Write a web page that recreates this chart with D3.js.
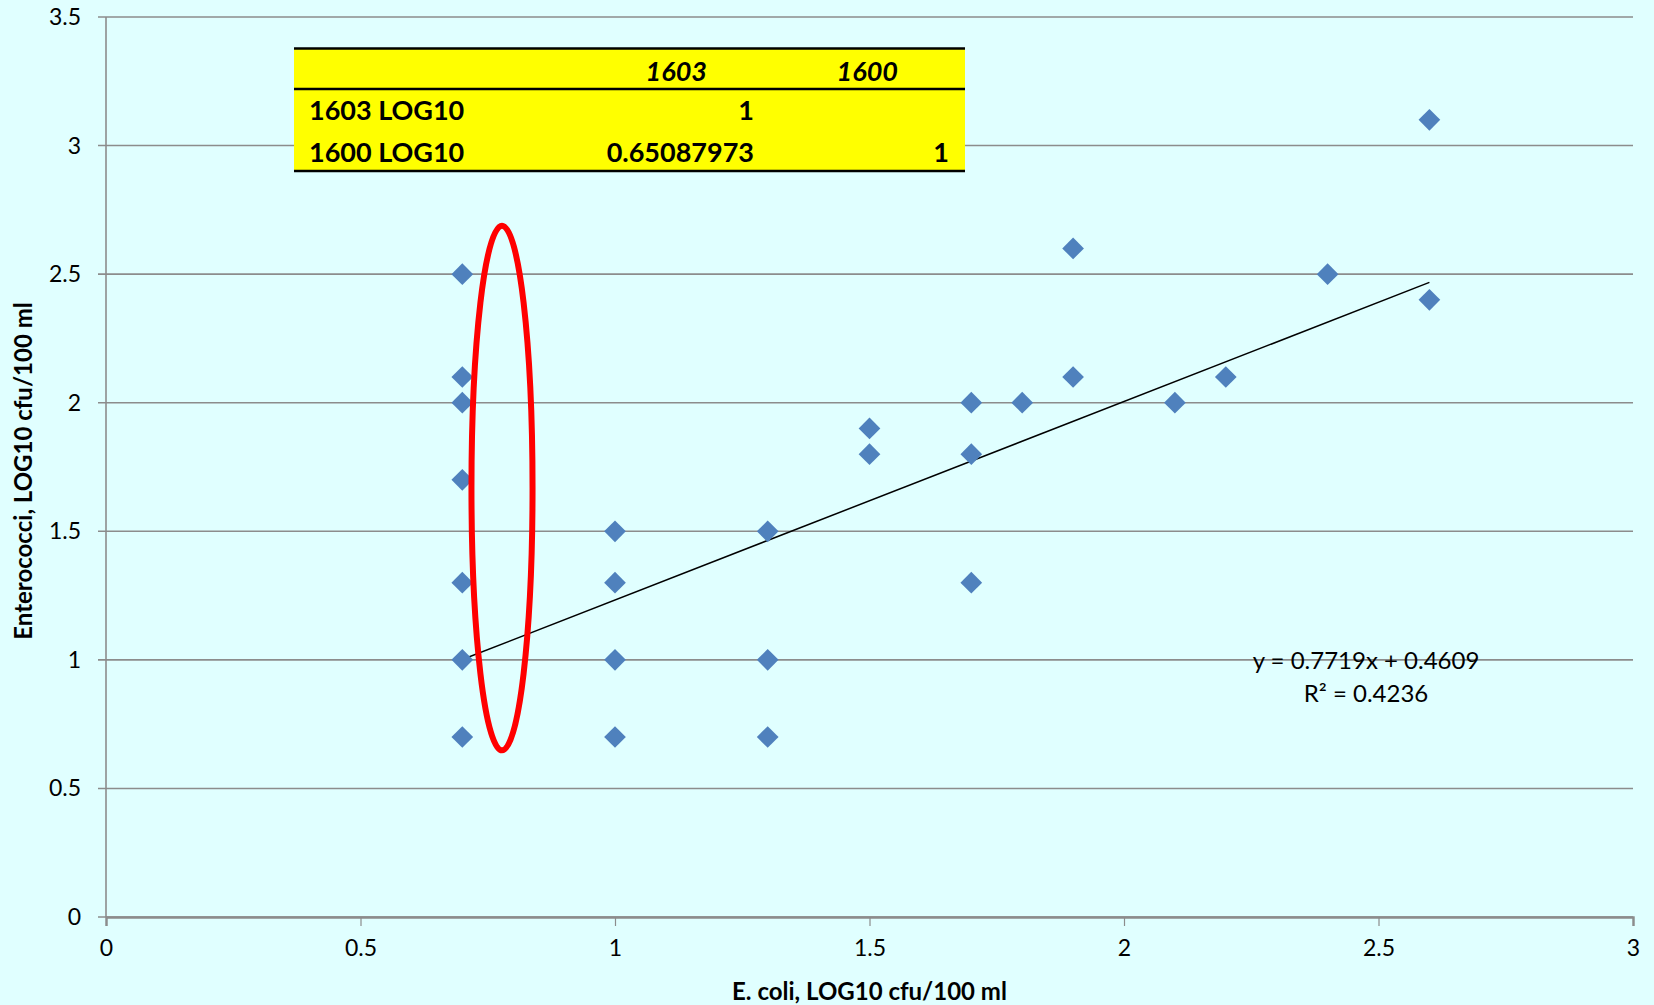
<!DOCTYPE html>
<html>
<head>
<meta charset="utf-8">
<script src="https://cdn.jsdelivr.net/npm/d3@7"></script>
<style>
  html, body { margin: 0; padding: 0; background: #e0ffff; }
  svg { display: block; font-family: Lato, "Noto Sans", sans-serif; }
</style>
</head>
<body>
<script>
// E. coli (x) vs Enterococci (y), LOG10 cfu/100 ml
const ecoli = [0.7, 0.7, 0.7, 0.7, 0.7, 0.7, 0.7,
               1.0, 1.0, 1.0, 1.0,
               1.3, 1.3, 1.3,
               1.5, 1.5,
               1.7, 1.7, 1.7,
               1.8,
               1.9, 1.9,
               2.1, 2.2, 2.4,
               2.6, 2.6];
const entero = [2.5, 2.1, 2.0, 1.7, 1.3, 1.0, 0.7,
                1.5, 1.3, 1.0, 0.7,
                1.5, 1.0, 0.7,
                1.9, 1.8,
                2.0, 1.8, 1.3,
                2.0,
                2.6, 2.1,
                2.0, 2.1, 2.5,
                3.1, 2.4];

const xTicks = [0, 0.5, 1, 1.5, 2, 2.5, 3];
const yTicks = [0, 0.5, 1, 1.5, 2, 2.5, 3, 3.5];

// linear trendline from the chart
const slope = 0.7719, intercept = 0.4609, r2 = 0.4236;
const trendRange = [0.7, 2.6];

// highlighted group (ellipse) in data units
const ellipse = { cx: 0.778, cy: 1.668, rx: 0.06, ry: 1.02 };

// correlation table
const tableHeader = ["", "1603", "1600"];
const tableRows = [
  ["1603 LOG10", "1", ""],
  ["1600 LOG10", "0.65087973", "1"]
];

const W = 1654, H = 1005;
const mLeft = 106, mRight = 1633, mTop = 17, mBottom = 917;

const svg = d3.select("body").append("svg")
  .attr("width", W)
  .attr("height", H);

const x = d3.scaleLinear().domain([0, 3]).range([mLeft, mRight]);
const y = d3.scaleLinear().domain([0, 3.5]).range([mBottom, mTop]);

const grey = "#8c8c8c";

// horizontal gridlines with left tick stubs
svg.append("g")
  .selectAll("line")
  .data(yTicks)
  .join("line")
  .attr("x1", mLeft - 8)
  .attr("x2", mRight)
  .attr("y1", d => y(d))
  .attr("y2", d => y(d))
  .attr("stroke", grey)
  .attr("stroke-width", 1.6);

// y axis line
svg.append("line")
  .attr("x1", mLeft).attr("x2", mLeft)
  .attr("y1", mTop).attr("y2", mBottom)
  .attr("stroke", grey)
  .attr("stroke-width", 1.6);

// x axis
const xAxis = svg.append("g")
  .attr("transform", `translate(0,${mBottom})`)
  .call(d3.axisBottom(x).tickValues(xTicks).tickSize(9).tickPadding(14).tickFormat(d3.format("")));
xAxis.select(".domain").attr("stroke", grey).attr("stroke-width", 2.4);
xAxis.selectAll(".tick line").attr("stroke", grey).attr("stroke-width", 1.2);
xAxis.selectAll(".tick text")
  .attr("font-size", 23)
  .attr("fill", "#000")
  .attr("font-family", "Lato, 'Noto Sans', sans-serif");

// y tick labels
svg.append("g")
  .selectAll("text")
  .data(yTicks)
  .join("text")
  .attr("x", mLeft - 25)
  .attr("y", d => y(d))
  .attr("dy", "0.35em")
  .attr("text-anchor", "end")
  .attr("font-size", 23)
  .text(d => d3.format("")(d));

// trendline
svg.append("line")
  .attr("x1", x(trendRange[0]))
  .attr("y1", y(slope * trendRange[0] + intercept))
  .attr("x2", x(trendRange[1]))
  .attr("y2", y(slope * trendRange[1] + intercept))
  .attr("stroke", "#000")
  .attr("stroke-width", 1.5);

// points (diamonds)
const pts = ecoli.map((v, i) => ({ x: v, y: entero[i] }));
svg.append("g")
  .selectAll("path")
  .data(pts)
  .join("path")
  .attr("transform", d => `translate(${x(d.x)},${y(d.y)})`)
  .attr("d", d3.symbol(d3.symbolDiamond2, 300))
  .attr("fill", "#4f81bd");

// red ellipse
svg.append("ellipse")
  .attr("cx", x(ellipse.cx))
  .attr("cy", y(ellipse.cy))
  .attr("rx", x(ellipse.cx + ellipse.rx) - x(ellipse.cx))
  .attr("ry", y(ellipse.cy - ellipse.ry) - y(ellipse.cy))
  .attr("fill", "none")
  .attr("stroke", "#ff0000")
  .attr("stroke-width", 6);

// equation
const eq = svg.append("g").attr("font-size", 24).attr("text-anchor", "middle");
eq.append("text").attr("x", 1366).attr("y", 669)
  .text(`y = ${slope}x + ${intercept}`);
eq.append("text").attr("x", 1366).attr("y", 702)
  .text(`R² = ${r2}`);

// axis titles
svg.append("text")
  .attr("x", (mLeft + mRight) / 2)
  .attr("y", 1000)
  .attr("text-anchor", "middle")
  .attr("font-size", 24)
  .attr("font-weight", "bold")
  .text("E. coli, LOG10 cfu/100 ml");

svg.append("text")
  .attr("transform", `translate(32,${(mTop + mBottom) / 2 + 4}) rotate(-90)`)
  .attr("text-anchor", "middle")
  .attr("font-size", 24)
  .attr("font-weight", "bold")
  .text("Enterococci, LOG10 cfu/100 ml");

// correlation table
const tb = { x0: 294, x1: 965, y0: 48.5, head: 89, y1: 171 };
const colRight = [null, 707, 898];
const colRightBody = [null, 754, 949];
const tg = svg.append("g");
tg.append("rect")
  .attr("x", tb.x0).attr("y", tb.y0)
  .attr("width", tb.x1 - tb.x0).attr("height", tb.y1 - tb.y0)
  .attr("fill", "#ffff00");
[tb.y0, tb.head, tb.y1].forEach(yy => {
  tg.append("line")
    .attr("x1", tb.x0).attr("x2", tb.x1)
    .attr("y1", yy).attr("y2", yy)
    .attr("stroke", "#000").attr("stroke-width", 2.5);
});
tableHeader.forEach((h, i) => {
  if (!h) return;
  tg.append("text")
    .attr("x", colRight[i]).attr("y", 81)
    .attr("text-anchor", "end")
    .attr("font-size", 27)
    .attr("font-weight", "bold")
    .attr("font-style", "italic")
    .text(h);
});
const rowY = [120, 162];
tableRows.forEach((row, r) => {
  row.forEach((cell, c) => {
    if (!cell) return;
    tg.append("text")
      .attr("x", c === 0 ? 309 : colRightBody[c])
      .attr("y", rowY[r])
      .attr("text-anchor", c === 0 ? "start" : "end")
      .attr("font-size", 27)
      .attr("font-weight", "bold")
      .text(cell);
  });
});
</script>
</body>
</html>
